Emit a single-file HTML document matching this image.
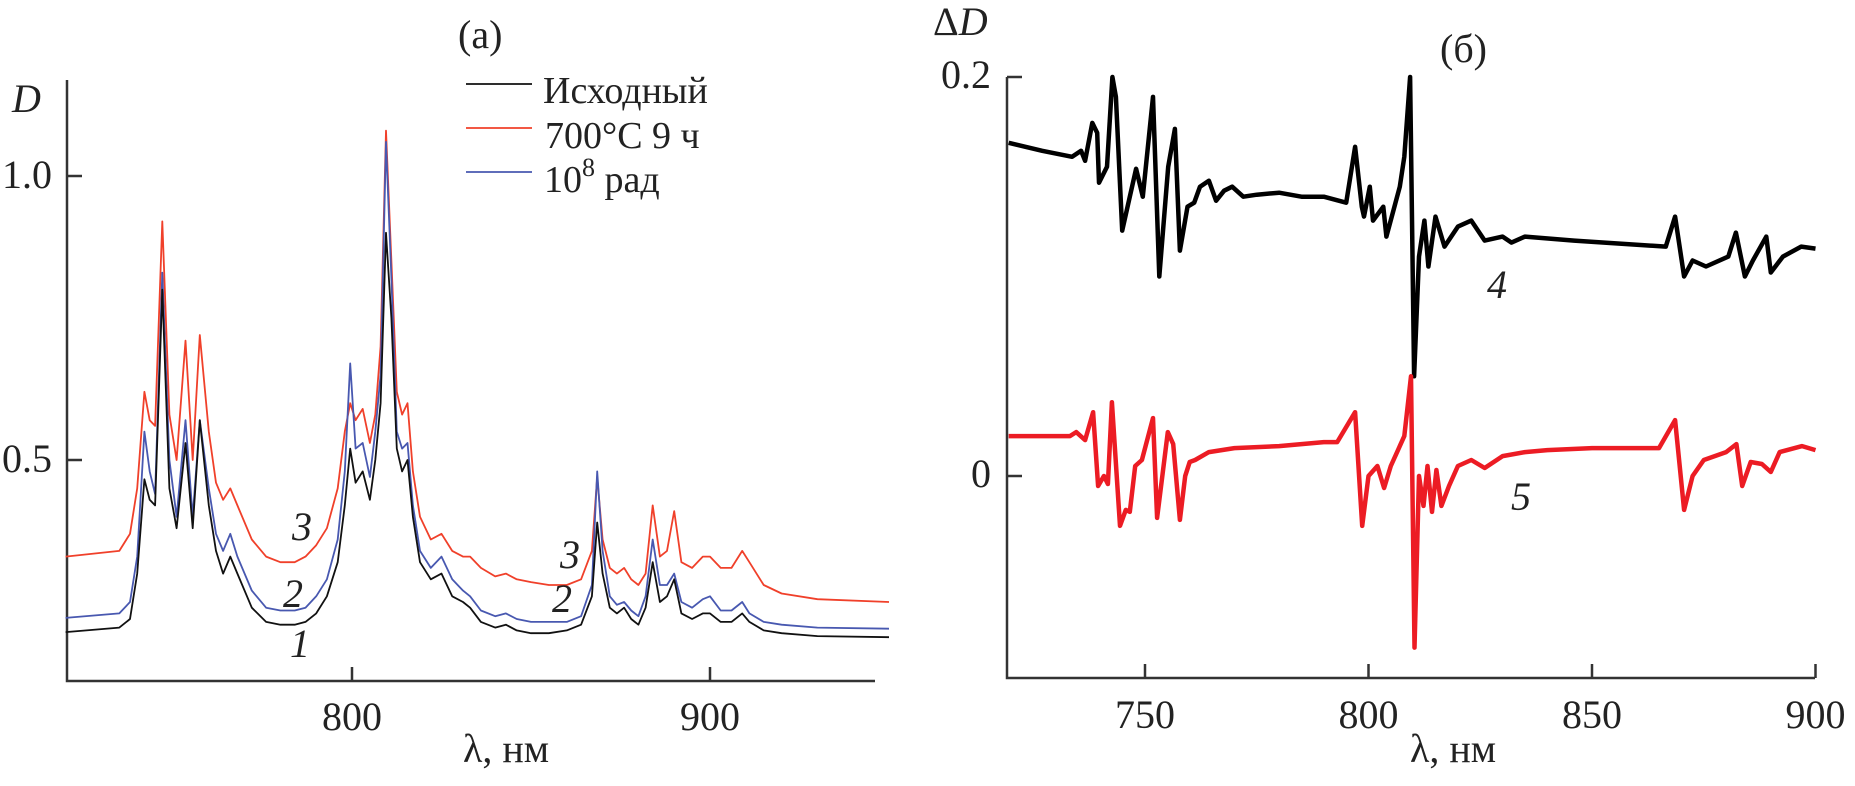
<!DOCTYPE html>
<html><head><meta charset="utf-8"><style>
html,body{margin:0;padding:0;background:#fff;}
svg{display:block;font-family:"Liberation Serif",serif;}
</style></head><body>
<svg id="chart" width="1855" height="786" viewBox="0 0 1855 786" xmlns="http://www.w3.org/2000/svg">
<g id="left"></g>
<g id="right"></g>
</svg>
<script>
// Panel (a) data
const wlA = [720,735,738,740,742,743.5,745,747,749,751,753.5,755.5,757.5,760,762,764,766,768,772,776,780,784,787,790,793,796,798,799.5,801,803,805,806.5,808,809.5,811,812.5,814,815.5,817,819,822,825,828,831,833,836,840,843,846,850,855,860,864,867,868.5,870,872,874,876,878,880,882,884,886,888,890,892,895,898,900,903,906,909,911,915,920,930,950];
const initialD = [0.197,0.205,0.22,0.30,0.466,0.43,0.42,0.80,0.45,0.38,0.53,0.38,0.57,0.42,0.34,0.30,0.33,0.30,0.24,0.215,0.21,0.21,0.215,0.23,0.26,0.32,0.42,0.52,0.46,0.48,0.43,0.50,0.60,0.90,0.75,0.52,0.48,0.50,0.40,0.32,0.29,0.30,0.26,0.25,0.24,0.215,0.205,0.21,0.20,0.195,0.195,0.20,0.21,0.26,0.39,0.30,0.24,0.23,0.24,0.22,0.21,0.24,0.32,0.25,0.26,0.29,0.23,0.22,0.23,0.23,0.215,0.215,0.23,0.215,0.20,0.195,0.19,0.188];
const annealedD = [0.33,0.34,0.37,0.45,0.62,0.57,0.56,0.92,0.58,0.50,0.71,0.50,0.72,0.55,0.46,0.43,0.45,0.42,0.36,0.33,0.32,0.32,0.33,0.35,0.38,0.45,0.55,0.60,0.57,0.59,0.53,0.58,0.70,1.08,0.85,0.62,0.58,0.60,0.48,0.40,0.36,0.37,0.34,0.33,0.33,0.31,0.295,0.30,0.29,0.285,0.28,0.28,0.29,0.34,0.47,0.36,0.31,0.30,0.31,0.29,0.28,0.30,0.42,0.33,0.34,0.41,0.32,0.31,0.33,0.33,0.31,0.31,0.34,0.32,0.28,0.265,0.255,0.25];
const irradiatedD = [0.222,0.23,0.25,0.33,0.55,0.48,0.44,0.83,0.50,0.40,0.57,0.40,0.57,0.45,0.37,0.34,0.37,0.33,0.27,0.24,0.235,0.235,0.24,0.26,0.29,0.36,0.48,0.67,0.52,0.53,0.47,0.55,0.65,1.06,0.82,0.55,0.52,0.53,0.42,0.34,0.31,0.33,0.29,0.27,0.26,0.235,0.225,0.23,0.22,0.215,0.215,0.215,0.225,0.28,0.48,0.34,0.26,0.245,0.25,0.235,0.225,0.26,0.36,0.28,0.28,0.30,0.25,0.24,0.255,0.26,0.235,0.235,0.25,0.23,0.215,0.21,0.205,0.203];
const ticksXA = [800,900];
const ticksYA = [0.5,1.0];
const tickLabelsYA = ["0.5","1.0"];

// Panel (b) data
const wl4 = [719.5,727,733.7,735.7,736.6,738.2,739.3,739.7,741.5,742.7,743.5,744.9,746.6,748,749.5,751.8,753.2,755.2,756.7,757.8,759.5,761,762.3,764.3,765.9,767.7,769.5,772,775,780,785,790,795,797,798.5,799,800.3,801,803.3,804,807,808,809.3,810.2,811.3,812.5,813.4,815,817,820,823,826,830,832,835,846,866.5,868.6,870.6,872.5,875.5,880.5,882.2,884.2,886,889,890,892.7,896.8,900];
const dD4 = [0.167,0.163,0.160,0.163,0.158,0.177,0.172,0.147,0.155,0.200,0.19,0.123,0.14,0.154,0.140,0.190,0.100,0.155,0.174,0.113,0.135,0.137,0.145,0.148,0.138,0.143,0.145,0.140,0.141,0.142,0.140,0.140,0.137,0.165,0.135,0.130,0.145,0.128,0.135,0.120,0.145,0.160,0.200,0.050,0.110,0.128,0.105,0.130,0.115,0.125,0.128,0.118,0.120,0.117,0.120,0.118,0.115,0.130,0.100,0.108,0.105,0.110,0.122,0.100,0.108,0.120,0.102,0.110,0.115,0.114];
const wl5 = [719.5,733.2,734.6,736.6,738.4,739.5,740.8,741.7,742.6,744.4,745.7,746.6,747.8,749.3,751.8,752.7,755.1,756.3,757.8,759,760,761.2,764.3,770,780,790,793,797,798.6,800,802,803.5,805,808,809.5,810.3,811.3,812.3,813.2,814.2,815.2,816.3,818,820,823,826,830,835,840,850,865,868.6,870.6,872.5,875,880,882.3,883.6,885.5,888,890,892,897,900];
const dD5 = [0.020,0.020,0.022,0.018,0.032,-0.005,0.000,-0.004,0.037,-0.025,-0.017,-0.018,0.005,0.008,0.029,-0.021,0.022,0.016,-0.022,0.000,0.007,0.008,0.012,0.014,0.015,0.017,0.017,0.032,-0.025,0.000,0.005,-0.006,0.005,0.020,0.050,-0.086,0.000,-0.015,0.005,-0.018,0.003,-0.015,-0.005,0.005,0.008,0.004,0.010,0.012,0.013,0.014,0.014,0.028,-0.017,0.000,0.008,0.012,0.016,-0.005,0.007,0.006,0.002,0.012,0.015,0.013];
const ticksXB = [750,800,850,900];
const ticksYB = [0,0.2];
const tickLabelsYB = ["0","0.2"];

const NS = "http://www.w3.org/2000/svg";
function mk(parent, tag, attrs, text){
  const e = document.createElementNS(NS, tag);
  for (const k in attrs) e.setAttribute(k, attrs[k]);
  if (text !== undefined) e.textContent = text;
  parent.appendChild(e);
  return e;
}
const xA = v => 352 + (v - 800) * 3.58;
const yA = v => 176 - (v - 1.0) * 568;
const xB = v => 1145 + (v - 750) * 4.47;
const yB = v => 476 - v * 1995;
function pathFrom(xs, ys, fx, fy){
  return xs.map((x,i)=>(i?"L":"M")+fx(x).toFixed(1)+","+fy(ys[i]).toFixed(1)).join(" ");
}

const L = document.getElementById("left");
const R = document.getElementById("right");
const axStyle = {stroke:"#333", "stroke-width":2.5, fill:"none"};

let e;
e = mk(L,"path",Object.assign({d:"M67,80 L67,681 L875,681"},axStyle));


ticksXA.forEach(t=>{
  e = mk(L,"line",{x1:xA(t),x2:xA(t),y1:681,y2:667,stroke:"#333","stroke-width":2.5});
  
  
  e = mk(L,"text",{x:xA(t),y:730,"text-anchor":"middle","font-size":40,fill:"#222"},String(t));
  
  
});
ticksYA.forEach((t,i)=>{
  e = mk(L,"line",{x1:67,x2:82,y1:yA(t),y2:yA(t),stroke:"#333","stroke-width":2.5});
  
  
  e = mk(L,"text",{x:52,y:yA(t)+12,"text-anchor":"end","font-size":40,fill:"#222"},tickLabelsYA[i]);
  
  
});

const seriesA = [[annealedD,"#f0402a","series-700c-9h"],[irradiatedD,"#4858b0","series-10e8-rad"],[initialD,"#111","series-initial"]];
seriesA.forEach(s=>{
  e = mk(L,"path",{d:pathFrom(wlA,s[0],xA,yA),stroke:s[1],"stroke-width":1.8,fill:"none","stroke-linejoin":"round"});
  
  
});
</script>
<svg style="position:absolute;left:0;top:0" width="1855" height="786" viewBox="0 0 1855 786" xmlns="http://www.w3.org/2000/svg" font-family="Liberation Serif, serif">
<text x="12" y="112" font-size="40" font-style="italic" fill="#222">D</text>
<text x="458" y="48" font-size="40" fill="#222">(а)</text>
<g>
<line x1="466" x2="532" y1="84" y2="84" stroke="#111" stroke-width="1.8"/>
<text x="543" y="103" font-size="38" fill="#222">Исходный</text>
<line x1="466" x2="532" y1="128" y2="128" stroke="#f0402a" stroke-width="1.8"/>
<text x="545" y="148" font-size="38" fill="#222">700°С 9 ч</text>
<line x1="466" x2="532" y1="172" y2="172" stroke="#4858b0" stroke-width="1.8"/>
<text x="544" y="192" font-size="38" fill="#222">10<tspan dy="-16" font-size="26">8</tspan><tspan dy="16"> рад</tspan></text>
</g>
<text x="292" y="540" font-size="40" font-style="italic" fill="#222">3</text>
<text x="283" y="607" font-size="40" font-style="italic" fill="#222">2</text>
<text x="290" y="657" font-size="40" font-style="italic" fill="#222">1</text>
<text x="560" y="568" font-size="40" font-style="italic" fill="#222">3</text>
<text x="552" y="612" font-size="40" font-style="italic" fill="#222">2</text>
<text x="463" y="762" font-size="40" fill="#222">λ, нм</text>
<text x="933" y="35" font-size="40" fill="#222">Δ<tspan font-style="italic">D</tspan></text>
<text x="1440" y="62" font-size="40" fill="#222">(б)</text>
<text x="1410" y="762" font-size="40" fill="#222">λ, нм</text>
<text x="1487" y="298" font-size="40" font-style="italic" fill="#222">4</text>
<text x="1511" y="510" font-size="40" font-style="italic" fill="#222">5</text>
</svg>
<script>
let f;
f = mk(R,"path",Object.assign({d:"M1007,77 L1007,678 L1815,678"},axStyle));


ticksXB.forEach(t=>{
  f = mk(R,"line",{x1:xB(t),x2:xB(t),y1:678,y2:664,stroke:"#333","stroke-width":2.5});
  
  
  f = mk(R,"text",{x:xB(t),y:728,"text-anchor":"middle","font-size":40,fill:"#222"},String(t));
  
  
});
ticksYB.forEach((t,i)=>{
  f = mk(R,"line",{x1:1007,x2:1022,y1:yB(t),y2:yB(t),stroke:"#333","stroke-width":2.5});
  
  
  f = mk(R,"text",{x:991,y:yB(t)+11,"text-anchor":"end","font-size":40,fill:"#222"},tickLabelsYB[i]);
  
  
});
f = mk(R,"path",{d:pathFrom(wl4,dD4,xB,yB),stroke:"#000","stroke-width":4.5,fill:"none","stroke-linejoin":"round"});


f = mk(R,"path",{d:pathFrom(wl5,dD5,xB,yB),stroke:"#ec1c24","stroke-width":4.5,fill:"none","stroke-linejoin":"round"});


</script>
</body></html>
